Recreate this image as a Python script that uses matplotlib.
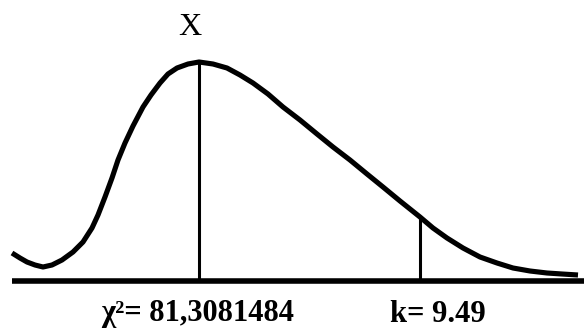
import matplotlib
matplotlib.use("Agg")
import matplotlib.pyplot as plt

# Curve (x position, height above the axis line)
curve_x = [12, 20, 27, 35, 43, 52, 62, 73, 83, 92, 98, 105, 112, 118, 125, 133, 143, 151,
           160, 168, 177, 188, 199, 213, 227, 240, 253, 268, 283, 300, 317, 333, 350, 367, 383,
           400, 420, 433, 447, 463, 480, 497, 513, 530, 547, 562, 578]
curve_y = [28, 23, 19, 16, 14, 16, 21, 29, 39, 53, 66, 84, 103, 121, 138, 155, 174, 186,
           198, 207, 213, 217, 219, 217, 213, 206, 198, 187, 174, 161, 147, 134, 121, 107, 94,
           80, 64, 53, 43, 33, 24, 18, 13, 10, 8, 7, 6]

peak_x = 199
peak_h = 219
crit_x = 420
crit_h = 64
axis_start = 12
axis_end = 584

top_label = "X"
stat_label = "χ²= 81,3081484"
crit_label = "k= 9.49"

fig = plt.figure(figsize=(5.84, 3.29), dpi=100)
ax = fig.add_axes([0, 0, 1, 1])
ax.set_xlim(0, 584)
ax.set_ylim(-48, 281)
ax.axis("off")

ax.plot(curve_x, curve_y, color="black", lw=3.7, solid_capstyle="butt", solid_joinstyle="round")
ax.plot([axis_start, axis_end], [0, 0], color="black", lw=4.0, solid_capstyle="butt")
ax.plot([peak_x, peak_x], [0, peak_h], color="black", lw=2.2, solid_capstyle="butt")
ax.plot([crit_x, crit_x], [0, crit_h], color="black", lw=2.2, solid_capstyle="butt")

ax.text(190, 246, top_label, family="Liberation Serif", fontsize=23, ha="center", va="baseline")
ax.text(198, -40, stat_label, family="Liberation Serif", fontweight="bold", fontsize=22,
        ha="center", va="baseline")
ax.text(438, -41, crit_label, family="Liberation Serif", fontweight="bold", fontsize=22,
        ha="center", va="baseline")

fig.savefig("out.png", dpi=100, facecolor="white")
